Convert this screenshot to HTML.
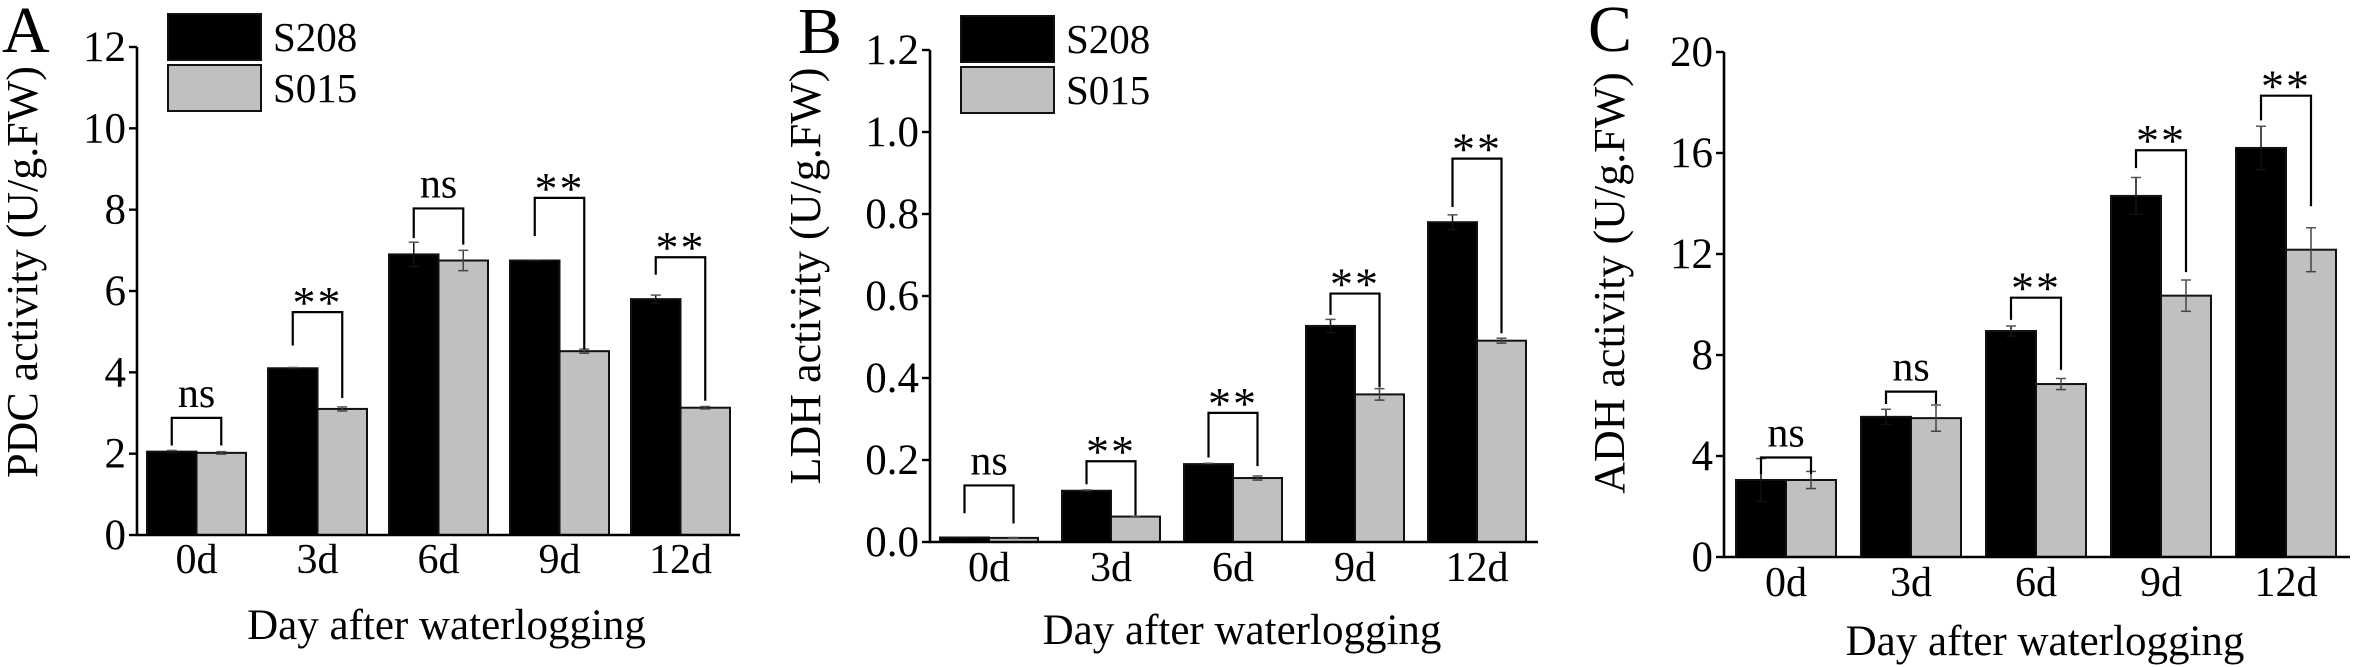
<!DOCTYPE html>
<html><head><meta charset="utf-8">
<style>
html,body{margin:0;padding:0;background:#fff;}
svg{display:block;font-family:"Liberation Serif","DejaVu Serif",serif;}
</style></head>
<body>
<svg id="fig" width="2356" height="667" viewBox="0 0 2356 667" xmlns="http://www.w3.org/2000/svg"></svg>
<script>
const categories = ["0d","3d","6d","9d","12d"];
const seriesNames = ["S208","S015"];

// Panel A: PDC
const pdcS208 = [2.05, 4.10, 6.90, 6.75, 5.80];
const pdcS015 = [2.02, 3.10, 6.75, 4.52, 3.13];
const pdcErr208 = [0.03, 0.02, 0.30, 0.01, 0.10];
const pdcErr015 = [0.03, 0.05, 0.25, 0.05, 0.03];
const pdcTicks = [0, 2, 4, 6, 8, 10, 12];
const pdcSig = ["ns","**","ns","**","**"];
const pdcSigTop = [2.88, 5.48, 8.03, 8.29, 6.83];
const pdcSigLeft = [2.20, 4.66, 7.30, 7.35, 6.40];
const pdcSigRight = [2.20, 3.37, 7.14, 4.57, 3.30];

// Panel B: LDH
const ldhS208 = [0.011, 0.125, 0.190, 0.527, 0.780];
const ldhS015 = [0.010, 0.062, 0.156, 0.360, 0.491];
const ldhErr208 = [0.001, 0.002, 0.002, 0.016, 0.018];
const ldhErr015 = [0.001, 0.001, 0.005, 0.014, 0.006];
const ldhTicks = [0, 0.2, 0.4, 0.6, 0.8, 1.0, 1.2];
const ldhSig = ["ns","**","**","**","**"];
const ldhSigTop = [0.138, 0.197, 0.315, 0.606, 0.935];
const ldhSigLeft = [0.070, 0.141, 0.206, 0.554, 0.817];
const ldhSigRight = [0.045, 0.065, 0.185, 0.377, 0.509];

// Panel C: ADH
const adhS208 = [3.05, 5.55, 8.95, 14.30, 16.20];
const adhS015 = [3.05, 5.50, 6.85, 10.35, 12.17];
const adhErr208 = [0.85, 0.30, 0.20, 0.73, 0.86];
const adhErr015 = [0.34, 0.52, 0.22, 0.62, 0.87];
const adhTicks = [0, 4, 8, 12, 16, 20];
const adhSig = ["ns","ns","**","**","**"];
const adhSigTop = [3.94, 6.55, 10.27, 16.11, 18.27];
const adhSigLeft = [3.28, 6.06, 9.39, 15.40, 17.29];
const adhSigRight = [3.28, 6.06, 7.41, 11.28, 13.89];

const NS = "http://www.w3.org/2000/svg";
const svg = document.getElementById("fig");
function mk(tag, attrs, parent){
  const e = document.createElementNS(NS, tag);
  for (const k in attrs) e.setAttribute(k, attrs[k]);
  (parent||svg).appendChild(e);
  return e;
}

function panel(cfg){
  const g = mk("g", {});
  
  
  const yMax = cfg.ticks[cfg.ticks.length-1];
  const y = v => cfg.y0 - (v / yMax) * (cfg.y0 - cfg.yTop);
  const gx = i => cfg.gx0 + i * cfg.step;

  const L = mk("text", {x: cfg.letterX, y: cfg.letterY, "font-size": 66}, g);
  L.textContent = cfg.letter;
  
  

  for (let i = 0; i < categories.length; i++){
    const vals = [cfg.s1[i], cfg.s2[i]];
    const errs = [cfg.e1[i], cfg.e2[i]];
    for (let s = 0; s < 2; s++){
      const x = gx(i) + s * cfg.bw;
      const r = mk("rect", {x: x, y: y(vals[s]), width: cfg.bw, height: cfg.y0 - y(vals[s]),
        fill: s === 0 ? "#000" : "#c0c0c0", stroke: "#111", "stroke-width": 2}, g);
      
      
      const cx = x + cfg.bw / 2;
      const eg = mk("g", {stroke: s === 0 ? "#111" : "#444", "stroke-width": 1.5}, g);
      
      
      mk("line", {x1: cx, x2: cx, y1: y(vals[s]-errs[s]), y2: y(vals[s]+errs[s])}, eg);
      mk("line", {x1: cx-5, x2: cx+5, y1: y(vals[s]+errs[s]), y2: y(vals[s]+errs[s]), stroke: "#555"}, eg);
      mk("line", {x1: cx-5, x2: cx+5, y1: y(vals[s]-errs[s]), y2: y(vals[s]-errs[s])}, eg);
    }
    const lx = gx(i) + cfg.bw/2, rx = gx(i) + cfg.bw*1.5;
    const top = y(cfg.sigTop[i]);
    const br = mk("path", {d: "M"+lx+" "+y(cfg.sigLeft[i])+" L"+lx+" "+top+" L"+rx+" "+top+" L"+rx+" "+y(cfg.sigRight[i]),
      fill: "none", stroke: "#000", "stroke-width": 2.2}, g);
    
    
    const isNs = cfg.sig[i] === "ns";
    const st = mk("text", {x: (lx+rx)/2, y: isNs ? top - 11 : top + 6, "text-anchor": "middle",
      "font-size": isNs ? 42 : 46, "letter-spacing": isNs ? 0 : 2}, g);
    st.textContent = cfg.sig[i];
    
    
    const xl = mk("text", {x: gx(i) + cfg.bw, y: cfg.y0 + cfg.xlabOff, "text-anchor": "middle", "font-size": 42}, g);
    xl.textContent = categories[i];
    
    
  }

  const ax = mk("path", {d: "M"+cfg.ax+" "+(cfg.yTop)+" L"+cfg.ax+" "+cfg.y0+" L"+cfg.axEnd+" "+cfg.y0,
    fill: "none", stroke: "#000", "stroke-width": 2.6}, g);
  
  
  for (const t of cfg.ticks){
    const tk = mk("line", {x1: cfg.ax - 8, x2: cfg.ax, y1: y(t), y2: y(t), stroke: "#000", "stroke-width": 2.4}, g);
    
    
    const tl = mk("text", {x: cfg.ax - 11, y: y(t) + 14, "text-anchor": "end", "font-size": 43}, g);
    tl.textContent = cfg.fmt(t);
    
    
  }
  const yt = mk("text", {x: 0, y: 0, "text-anchor": "middle", "font-size": 44,
    transform: "translate(" + cfg.ytX + "," + cfg.ytY + ") rotate(-90)"}, g);
  yt.textContent = cfg.ytitle;
  
  
  const xt = mk("text", {x: (cfg.ax + cfg.axEnd)/2 + 8, y: cfg.y0 + cfg.xtOff, "text-anchor": "middle", "font-size": 43}, g);
  xt.textContent = "Day after waterlogging";
  
  

  if (cfg.legX !== undefined){
    const lg = mk("g", {}, g);
    
    
    for (let s = 0; s < 2; s++){
      const by = cfg.legY + s * 51;
      const sw = mk("rect", {x: cfg.legX, y: by, width: 93, height: 46, fill: s === 0 ? "#000" : "#c0c0c0", stroke: "#111", "stroke-width": 2}, lg);
      
      
      const lt = mk("text", {x: cfg.legX + 105, y: by + 37, "font-size": 41}, lg);
      lt.textContent = seriesNames[s];
      
      
    }
  }
}

panel({id:"pdc", letter:"A", letterX:2, letterY:52, s1:pdcS208, s2:pdcS015, e1:pdcErr208, e2:pdcErr015,
  ticks:pdcTicks, fmt:t=>String(t), sig:pdcSig, sigTop:pdcSigTop, sigLeft:pdcSigLeft, sigRight:pdcSigRight,
  ax:137, axEnd:740, y0:535, yTop:47, gx0:147, step:121, bw:49.5, xlabOff:38, xtOff:104,
  ytitle:"PDC activity (U/g.FW)", ytX:37, ytY:272, legX:168, legY:14});
panel({id:"ldh", letter:"B", letterX:798, letterY:53, s1:ldhS208, s2:ldhS015, e1:ldhErr208, e2:ldhErr015,
  ticks:ldhTicks, fmt:t=>t.toFixed(1), sig:ldhSig, sigTop:ldhSigTop, sigLeft:ldhSigLeft, sigRight:ldhSigRight,
  ax:930, axEnd:1538, y0:542, yTop:50, gx0:940, step:122, bw:49, xlabOff:39, xtOff:102,
  ytitle:"LDH activity (U/g.FW)", ytX:820, ytY:276, legX:961, legY:16});
panel({id:"adh", letter:"C", letterX:1588, letterY:51, s1:adhS208, s2:adhS015, e1:adhErr208, e2:adhErr015,
  ticks:adhTicks, fmt:t=>String(t), sig:adhSig, sigTop:adhSigTop, sigLeft:adhSigLeft, sigRight:adhSigRight,
  ax:1724, axEnd:2350, y0:557, yTop:52, gx0:1736, step:125, bw:50, xlabOff:39, xtOff:98,
  ytitle:"ADH activity (U/g.FW)", ytX:1624, ytY:283});
</script>
</body></html>
